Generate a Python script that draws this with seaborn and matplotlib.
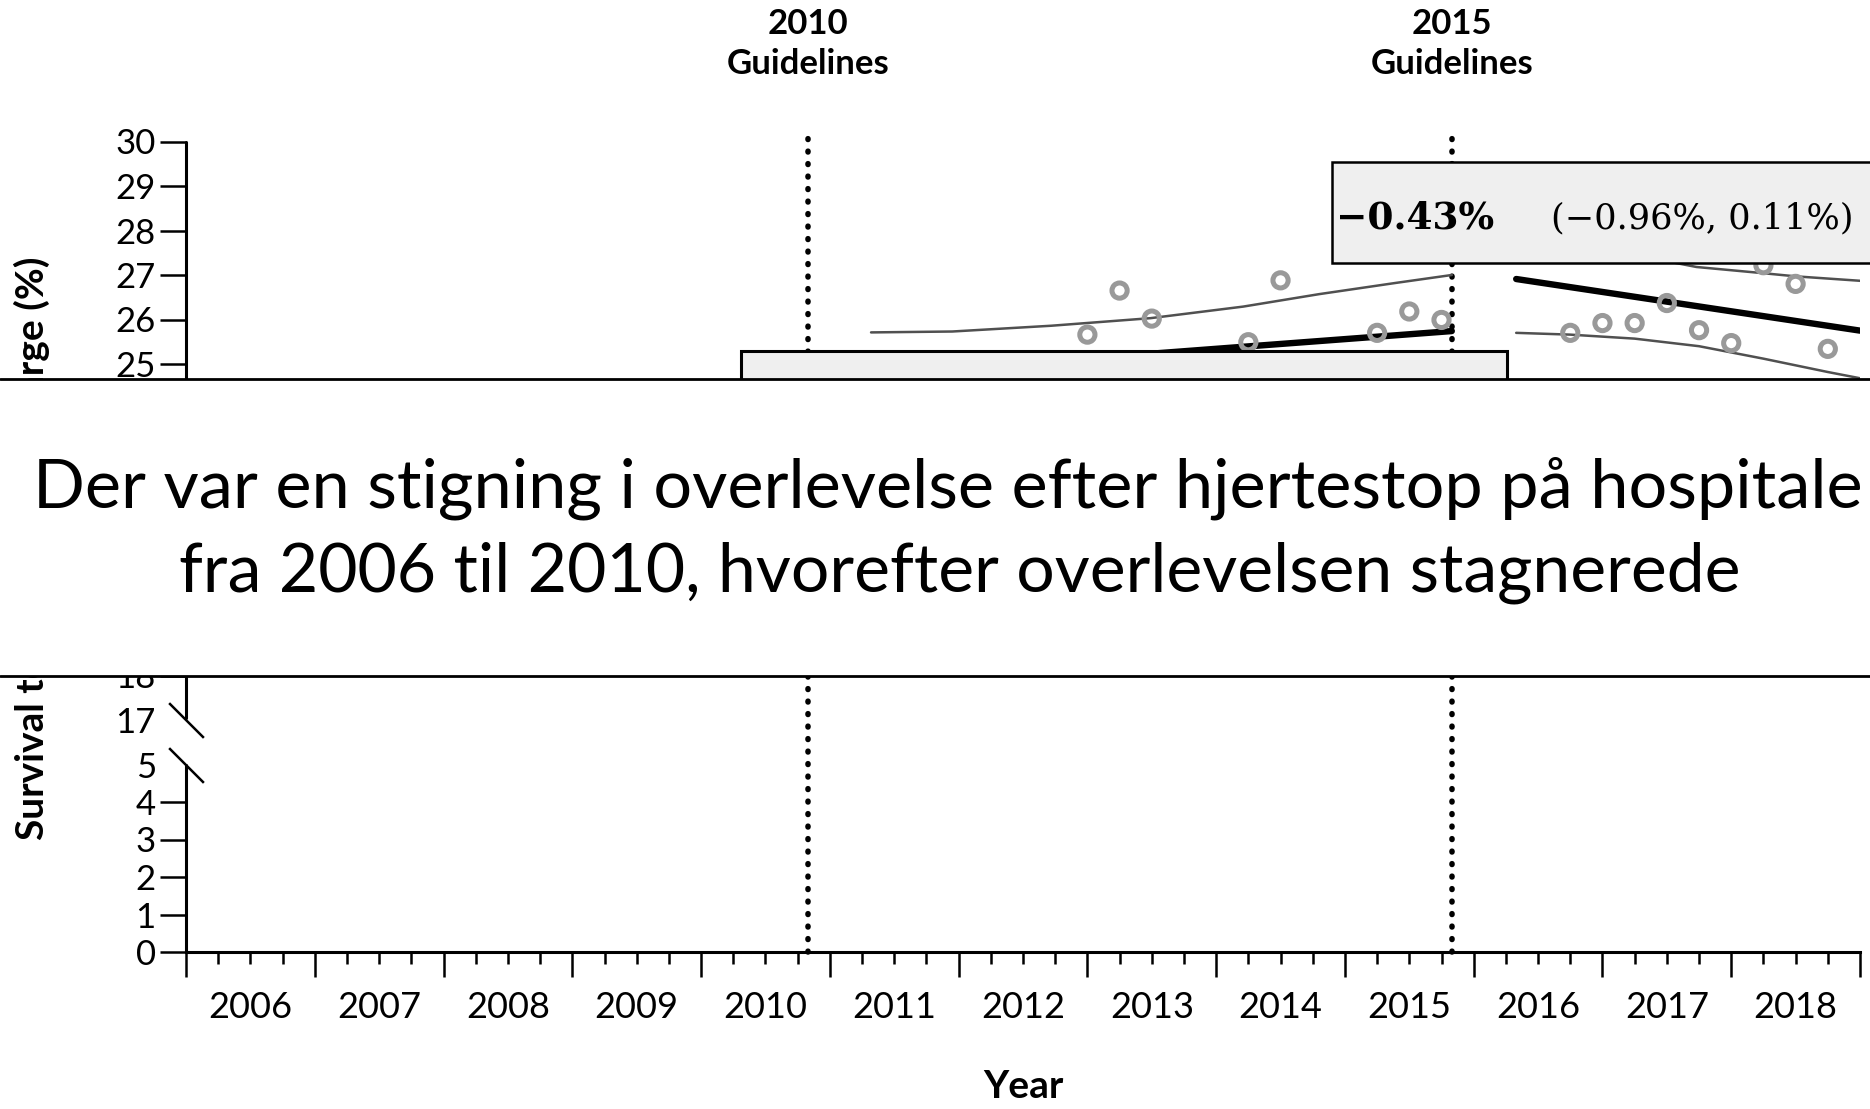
import numpy as np
import matplotlib
matplotlib.use("Agg")
import matplotlib.pyplot as plt
import seaborn as sns
from matplotlib.patches import Rectangle
from matplotlib.lines import Line2D
from matplotlib.ticker import MultipleLocator
from matplotlib.transforms import blended_transform_factory

# values
years = list(range(2006, 2019))
guideline_x = [2010.83, 2015.83]
guideline_names = ["2010", "2015"]

pre_quarter = [2013.0, 2013.25, 2013.5, 2014.25, 2014.5, 2015.25, 2015.5, 2015.75]
pre_survival = [25.66, 26.65, 26.02, 25.49, 26.88, 25.70, 26.18, 25.99]
post_quarter = [2016.75, 2017.0, 2017.25, 2017.5, 2017.75, 2018.0, 2018.25, 2018.5, 2018.75]
post_survival = [25.70, 25.92, 25.92, 26.37, 25.76, 25.47, 27.22, 26.80, 25.34]

pre_trend_x = [2011.33, 2015.83]
pre_trend_y = [24.76, 25.74]
post_trend_x = [2016.33, 2019.0]
post_trend_y = [26.91, 25.75]

pre_upper_x = [2011.32, 2011.95, 2012.72, 2013.49, 2014.21, 2014.80, 2015.39, 2015.83]
pre_upper_y = [25.71, 25.73, 25.86, 26.03, 26.29, 26.57, 26.82, 27.0]
post_upper_x = [2016.33, 2016.75, 2017.25, 2017.73, 2018.25, 2018.5, 2019.0]
post_upper_y = [28.1, 27.8, 27.45, 27.18, 27.04, 26.97, 26.87]
post_lower_x = [2016.33, 2016.75, 2017.25, 2017.75, 2018.25, 2018.75, 2019.0]
post_lower_y = [25.70, 25.66, 25.57, 25.40, 25.12, 24.82, 24.68]

# ticks 19-24 sit under the caption band and are not shown
y_ticks = [0, 1, 2, 3, 4, 5, 17, 18, 25, 26, 27, 28, 29, 30]

slope_est = "\u22120.43%"
slope_ci = "(\u22120.96%, 0.11%)"
caption = ["Der var en stigning i overlevelse efter hjertestop på hospitale",
           "fra 2006 til 2010, hvorefter overlevelsen stagnerede"]

# broken y axis: 0-5 and 17-30 with different spacing
KNOTS = [-10, 5, 17, 40]
MAPPED = [-375, 187.5, 232, 232 + 23 * 44.5]


def fwd(v):
    return np.interp(v, KNOTS, MAPPED)


def inv(p):
    return np.interp(p, MAPPED, KNOTS)


sns.set_theme(style="white")
plt.rcParams["font.family"] = ["Lato", "DejaVu Sans"]
plt.rcParams.update({"text.color": "black", "axes.labelcolor": "black",
                     "xtick.color": "black", "ytick.color": "black",
                     "axes.edgecolor": "black"})

fig = plt.figure(figsize=(18.7, 11.09), dpi=100)
ax = fig.add_axes([186 / 1870, 157 / 1109, 1674 / 1870, 810.5 / 1109])
ax.set_yscale("function", functions=(fwd, inv))
ax.set_xlim(2006, 2019)
ax.set_ylim(0, 30)

# guideline markers
for gx in guideline_x:
    ax.axvline(gx, ymin=0, ymax=1.006, color="black", lw=4,
               linestyle=(0, (0.15, 2.1)), dash_capstyle="round",
               clip_on=False, zorder=1.5)

# confidence bands and trends
for xs, ys in [(pre_upper_x, pre_upper_y), (post_upper_x, post_upper_y),
               (post_lower_x, post_lower_y)]:
    sns.lineplot(x=xs, y=ys, ax=ax, color="#505050", linewidth=1.8,
                 estimator=None, sort=False, zorder=2)
for xs, ys in [(pre_trend_x, pre_trend_y), (post_trend_x, post_trend_y)]:
    sns.lineplot(x=xs, y=ys, ax=ax, color="black", linewidth=4.6,
                 estimator=None, sort=False, zorder=2.5)

sns.scatterplot(x=pre_quarter + post_quarter, y=pre_survival + post_survival,
                ax=ax, marker="o", s=120, facecolor="none",
                edgecolor="#999999", linewidth=3.6, zorder=3)

# boxes
ax.add_patch(Rectangle((2010.31, 20), 2016.26 - 2010.31, 25.29 - 20,
                       facecolor="#efefef", edgecolor="black", lw=2.2, zorder=4))
ax.add_patch(Rectangle((2014.90, 27.27), 5, 29.54 - 27.27, facecolor="#efefef",
                       edgecolor="black", lw=1.8, zorder=4, clip_on=False))
ax.text(2014.93, 28.28, slope_est, fontsize=27, fontweight="bold",
        family="DejaVu Serif", ha="left", va="center", zorder=5)
ax.text(2016.6, 28.28, slope_ci, fontsize=25.3, family="DejaVu Serif",
        ha="left", va="center", zorder=5)

# axes styling
ax.spines[["top", "right", "left"]].set_visible(False)
ax.spines["bottom"].set_linewidth(2.2)
yax = ax.get_yaxis_transform()
ax.plot([0, 0], [0, 5], transform=yax, color="black", lw=2.2, clip_on=False)
ax.plot([0, 0], [17.05, 30], transform=yax, color="black", lw=2.2, clip_on=False)
for yb in [5, 17]:
    ax.plot([0], [yb], transform=yax, marker=[(-1, 1), (1, -1)], markersize=25,
            markeredgewidth=1.8, color="black", clip_on=False)

ax.set_yticks(y_ticks, labels=[str(v) for v in y_ticks])
ax.tick_params(axis="y", left=True, length=18.7, width=1.8, pad=3, labelsize=25)
for t in ax.yaxis.get_major_ticks():
    if t.get_loc() in (5, 17):
        t.tick1line.set_visible(False)

ax.set_xticks(range(2006, 2020), labels=[""] * 14)
ax.xaxis.set_minor_locator(MultipleLocator(0.25))
ax.tick_params(axis="x", which="major", bottom=True, length=18, width=1.8)
ax.tick_params(axis="x", which="minor", bottom=True, length=8.6, width=1.8)
for yr in years:
    ax.annotate(str(yr), xy=(yr + 0.5, 0), xycoords=("data", "axes fraction"),
                xytext=(0, -47.5), textcoords="offset points",
                ha="center", va="baseline", fontsize=26)

ax.set_xlabel("Year", fontsize=28, fontweight="bold")
ax.xaxis.label.set_va("baseline")
ax.xaxis.set_label_coords(0.5, -0.180)
ax.set_ylabel("Survival to Hospital Discharge (%)", fontsize=28, fontweight="bold")
ax.yaxis.set_label_coords(-0.081, 0.498)

top_tf = blended_transform_factory(ax.transData, fig.transFigure)
for gx, name in zip(guideline_x, guideline_names):
    ax.text(gx, 0.9693, name, transform=top_tf, ha="center", va="baseline",
            fontsize=25, fontweight="bold")
    ax.text(gx, 0.9333, "Guidelines", transform=top_tf, ha="center",
            va="baseline", fontsize=25, fontweight="bold")

# caption band laid over the middle of the chart
y0, y1 = (1109 - 676) / 1109, (1109 - 379) / 1109
fig.add_artist(Rectangle((0, y0), 1, y1 - y0, transform=fig.transFigure,
                         facecolor="white", edgecolor="none", zorder=10))
for yy in (y0, y1):
    fig.add_artist(Line2D([0, 1], [yy, yy], transform=fig.transFigure,
                          color="black", lw=2, zorder=11))
t1 = fig.text(33 / 1870, 1 - 507 / 1109, caption[0], ha="left",
              va="baseline", fontsize=50, zorder=12)
t2 = fig.text(960 / 1870, 1 - 592 / 1109, caption[1], ha="center",
              va="baseline", fontsize=50, zorder=12)
renderer = fig.canvas.get_renderer()
t1.set_fontsize(50 * 1828 / t1.get_window_extent(renderer).width)
t2.set_fontsize(50 * 1560 / t2.get_window_extent(renderer).width)

fig.savefig("out.png", dpi=100)
plt.close(fig)
